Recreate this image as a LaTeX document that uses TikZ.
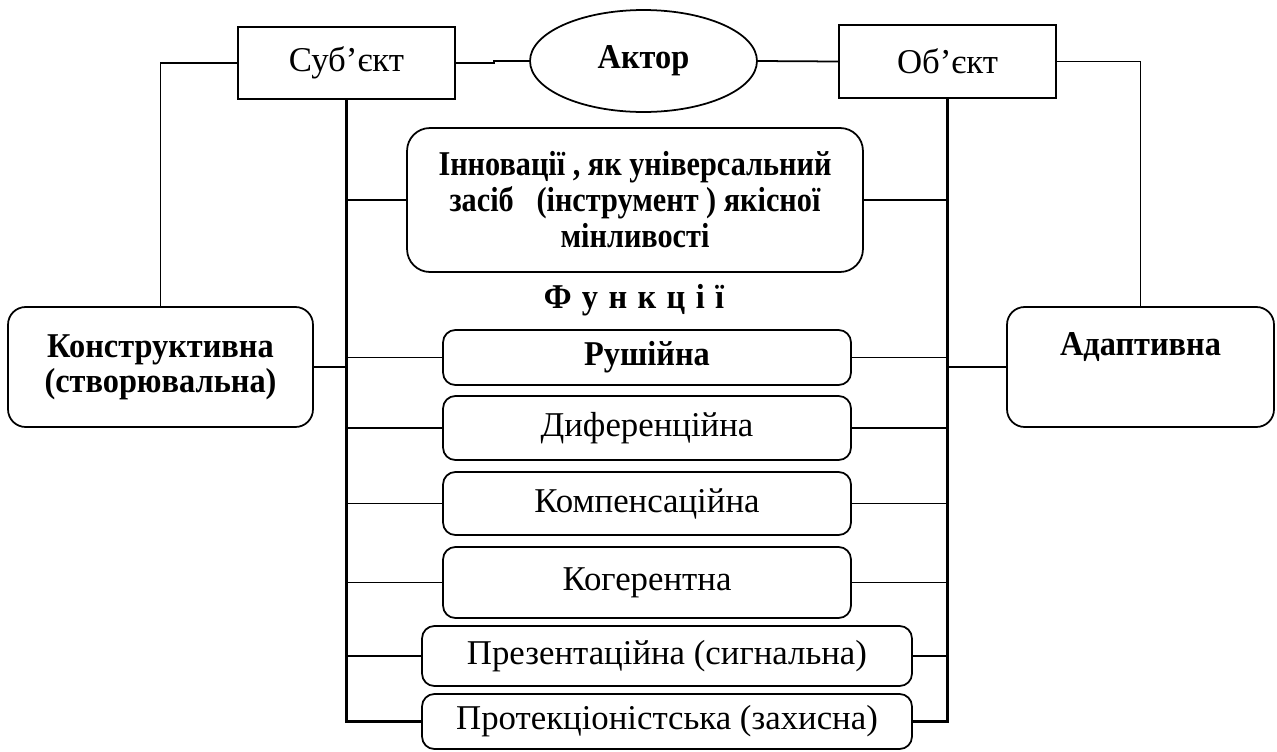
\documentclass[tikz,border=0pt]{standalone}
\usepackage{fontspec}
\setmainfont{Liberation Serif}[BoldFeatures={FakeStretch=0.93}]
\newfontfamily\condbold{Liberation Serif}[FakeStretch=0.87]
\usetikzlibrary{shapes.geometric}

\begin{document}
\begin{tikzpicture}[x=0.02cm,y=-0.02cm,
    font=\fontsize{19.8}{20}\selectfont,
    sqbox/.style={draw,line width=1pt,inner sep=0pt,minimum width=4.34cm,minimum height=1.45cm},
    rbox/.style={draw,line width=1pt,rounded corners=7pt,inner sep=0pt,align=center},
    fbox/.style={rbox,minimum width=8.16cm},
    wbox/.style={rbox,minimum width=9.8cm},
    link/.style={line width=1pt},
    bus/.style={line width=1.6pt}]
    \useasboundingbox (0,0) rectangle (1277,751);
    \node[sqbox] (sub) at (346.5,63) {Суб’єкт};
    \node[draw,ellipse,line width=1pt,inner sep=0pt,minimum width=4.54cm,minimum height=2.04cm] (aktor) at (643.5,61) {\textbf{Актор}};
    \node[sqbox] (obj) at (947.5,61.5) {Об’єкт};
    \node[rbox,rounded corners=13pt,minimum width=9.12cm,minimum height=2.88cm,font=\fontsize{19.8}{20.5}\condbold\bfseries] (innov) at (635,200)
        {Інновації , як універсальний\\засіб \ \ (інструмент ) якісної\\мінливості};
    \node[font={\fontsize{19.8}{20}\selectfont\bfseries\spaceskip=0.3em\relax}] (funk) at (634,300) {Ф у н к ц і ї};
    \node[fbox,minimum height=1.10cm,font=\fontsize{19.8}{20}\selectfont\bfseries] (rush) at (647,357.5) {Рушійна};
    \node[fbox,minimum height=1.28cm] (dyf) at (647,428) {Диференційна};
    \node[fbox,minimum height=1.26cm] (komp) at (647,503.5) {Компенсаційна};
    \node[fbox,minimum height=1.42cm] (koger) at (647,582.5) {Когерентна};
    \node[wbox,minimum height=1.20cm] (prez) at (667,656) {Презентаційна (сигнальна)};
    \node[wbox,minimum height=1.10cm] (prot) at (667,721.5) {Протекціоністська (захисна)};
    \node[rbox,rounded corners=10pt,minimum width=6.10cm,minimum height=2.40cm,font=\fontsize{19.8}{20}\selectfont\bfseries] (konstr) at (160.5,367)
        {Конструктивна\\(створювальна)};
    \node[rbox,rounded corners=10pt,minimum width=5.34cm,minimum height=2.40cm,font=\fontsize{19.8}{20}\selectfont\bfseries] (adapt) at (1140.5,367)
        {Адаптивна\\ \strut};
    \draw[link] (sub.west) -| (konstr.north);
    \draw[link] (sub.east) -- ++(38,0) |- (aktor.west);
    \draw[link] (aktor.east) -- (obj.west);
    \draw[link] (obj.east) -| (adapt.north);
    \draw[bus] (sub.south) |- (prot.west);
    \draw[bus] (obj.south) |- (prot.east);
    \foreach \n in {innov,rush,dyf,komp,koger,prez} {
        \draw[link] (\n.west) -- (\n.west -| sub.south);
        \draw[link] (\n.east) -- (\n.east -| obj.south);
    }
    \draw[link] (konstr.east) -- (konstr.east -| sub.south);
    \draw[link] (adapt.west) -- (adapt.west -| obj.south);
\end{tikzpicture}
\end{document}
